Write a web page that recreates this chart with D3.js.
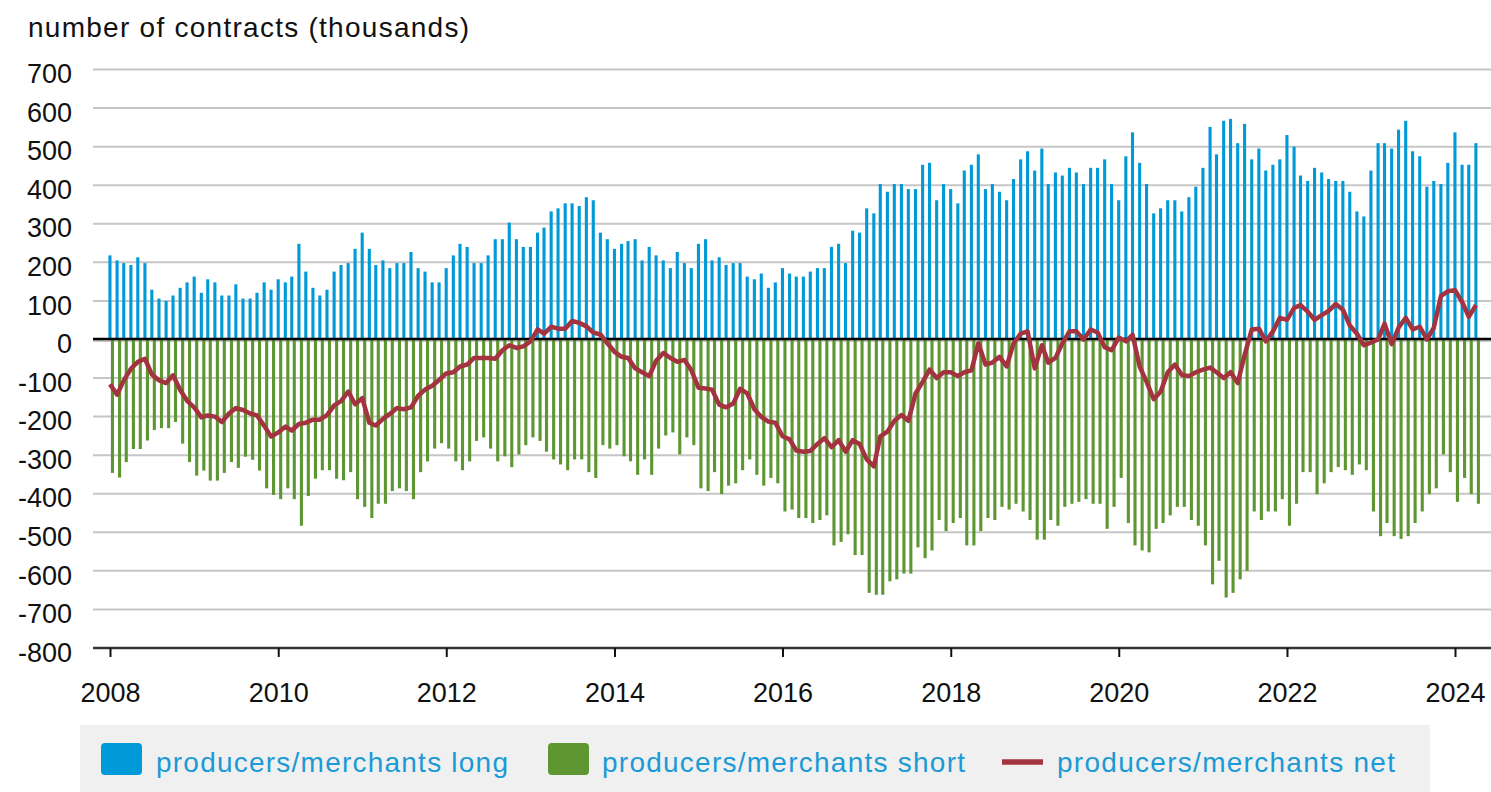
<!DOCTYPE html>
<html>
<head>
<meta charset="utf-8">
<script src="https://cdn.jsdelivr.net/npm/d3@7"></script>
<style>
  body { margin: 0; background: #ffffff; }
  svg { display: block; font-family: "Liberation Sans", Arial, sans-serif; }
</style>
</head>
<body>
<div id="chart"></div>
<script>
// Monthly positions, Jan 2008 - Apr 2024 (thousands of contracts)
const longPos = [
  218, 205, 198, 193, 213, 198, 129, 106, 100, 114, 134, 148, 163, 121, 156, 148, 114, 114, 143, 106, 106, 121, 148, 129,
  156, 148, 163, 248, 176, 134, 114, 129, 176, 193, 198, 235, 277, 235, 193, 205, 185, 198, 198, 227, 185, 176, 148, 148, 185,
  218, 248, 240, 198, 198, 218, 260, 260, 303, 260, 240, 240, 277, 290, 332, 340, 353, 353, 346, 369, 361, 277, 260, 235, 248,
  255, 260, 205, 240, 218, 205, 185, 227, 198, 185, 248, 260, 205, 213, 193, 198, 198, 163, 156, 171, 134, 148, 185, 171, 163,
  163, 176, 185, 185, 240, 248, 198, 282, 277, 340, 327, 403, 383, 403, 403, 390, 390, 453, 458, 361, 403, 390, 353, 438, 453,
  480, 390, 403, 383, 361, 416, 467, 488, 438, 495, 403, 433, 425, 445, 433, 403, 445, 445, 467, 403, 361, 475, 537, 458, 403,
  327, 340, 361, 361, 332, 369, 396, 445, 551, 480, 567, 572, 509, 559, 467, 495, 438, 453, 467, 530, 500, 425, 411, 445, 433,
  416, 411, 411, 383, 332, 319, 438, 509, 509, 495, 544, 567, 488, 475, 396, 411, 403, 458, 537, 453, 453, 509
];

const shortPos = [
  -346, -358, -318, -284, -284, -262, -235, -230, -230, -214, -270, -318, -353, -340, -366, -366, -346, -318, -333, -304, -312, -340, -386, -403,
  -414, -386, -414, -483, -406, -361, -339, -339, -361, -365, -344, -414, -434, -463, -426, -426, -393, -386, -393, -414, -344, -316, -283, -269, -283,
  -316, -339, -316, -263, -254, -283, -316, -303, -331, -298, -274, -254, -263, -291, -311, -324, -339, -311, -311, -344, -359, -274, -283, -274, -303,
  -316, -351, -311, -351, -283, -249, -241, -298, -254, -274, -386, -393, -344, -401, -379, -373, -339, -311, -351, -379, -359, -373, -446, -441, -463,
  -463, -476, -468, -456, -534, -525, -505, -559, -559, -657, -662, -662, -627, -622, -607, -607, -539, -567, -547, -468, -497, -476, -463, -534, -534,
  -497, -463, -468, -434, -441, -426, -446, -468, -519, -519, -468, -483, -434, -426, -421, -414, -426, -426, -491, -434, -359, -476, -534, -547, -552,
  -491, -476, -456, -434, -434, -468, -483, -534, -635, -574, -669, -657, -622, -600, -446, -468, -446, -446, -414, -483, -426, -344, -344, -401, -373,
  -344, -331, -339, -351, -324, -339, -446, -510, -476, -510, -517, -510, -476, -446, -401, -386, -298, -344, -421, -359, -401, -426
];

const netPos = [
  -116, -143, -106, -76, -58, -50, -91, -106, -113, -93, -131, -159, -176, -202, -197, -200, -214, -192, -178, -183, -192, -197, -224, -252,
  -241, -226, -236, -219, -216, -208, -208, -196, -171, -160, -135, -168, -152, -216, -223, -206, -193, -178, -181, -176, -146, -130, -120, -105, -88,
  -85, -70, -65, -48, -48, -48, -50, -28, -15, -22, -18, -5, 26, 15, 33, 28, 28, 48, 43, 34, 18, 13, -10, -32, -45,
  -48, -75, -85, -95, -55, -35, -48, -58, -53, -80, -125, -127, -130, -169, -176, -166, -128, -140, -181, -201, -213, -216, -251, -259, -288,
  -291, -289, -271, -256, -279, -261, -291, -261, -271, -311, -329, -251, -239, -211, -196, -211, -140, -110, -78, -100, -85, -85, -95, -85, -80,
  -10, -65, -60, -45, -70, -10, 15, 21, -75, -15, -60, -48, -10, 21, 21, 0, 26, 18, -20, -28, 5, -5, 12, -70, -110,
  -155, -135, -85, -65, -92, -95, -85, -78, -73, -85, -100, -85, -113, -40, 26, 28, -5, 21, 56, 51, 82, 89, 72, 51, 63,
  74, 92, 77, 36, 15, -15, -8, 0, 41, -12, 31, 56, 26, 33, 0, 31, 113, 125, 128, 97, 59, 89
];

const months = d3.timeMonth.range(new Date(2008, 0, 1), new Date(2024, 4, 1));

const yTicks = [700, 600, 500, 400, 300, 200, 100, 0, -100, -200, -300, -400, -500, -600, -700, -800];
const xTickYears = ["2008", "2010", "2012", "2014", "2016", "2018", "2020", "2022", "2024"];

const seriesNames = ["producers/merchants long", "producers/merchants short", "producers/merchants net"];
const colors = { long: "#009ad9", short: "#5e9732", net: "#a3333f", legendText: "#1b9ad6" };

const data = months.map((m, i) => ({
    date: m,
    long: longPos[i],
    short: shortPos[i],
    net: netPos[i]
}));

// Dimensions
const width = 1491, height = 792;
const plotLeft = 93, plotRight = 1491;

const svg = d3.select("#chart")
    .append("svg")
    .attr("width", width)
    .attr("height", height);

// Scales
const xScale = d3.scaleTime()
    .domain([new Date(2008, 0, 1), new Date(2024, 0, 1)])
    .range([110, 1455]);
const yScale = d3.scaleLinear().domain([-800, 700]).range([648, 69.5]);

// Title
svg.append("text")
    .attr("x", 28)
    .attr("y", 37)
    .attr("font-size", 28)
    .attr("textLength", 441)
    .attr("fill", "#111")
    .text("number of contracts (thousands)");

// Horizontal grid lines
svg.append("g")
    .selectAll("line")
    .data(yTicks.filter(d => d > -800))
    .join("line")
    .attr("x1", plotLeft)
    .attr("x2", plotRight)
    .attr("y1", d => yScale(d) + (d === 0 ? 1.5 : 0))
    .attr("y2", d => yScale(d) + (d === 0 ? 1.5 : 0))
    .attr("stroke", "#c6c6c6")
    .attr("stroke-width", 2);

// Y axis labels (plain hyphen for negatives)
const yAxis = svg.append("g")
    .attr("transform", `translate(${plotLeft},0)`)
    .call(d3.axisLeft(yScale)
        .tickValues(yTicks)
        .tickFormat(d => String(d))
        .tickSize(0)
        .tickPadding(21));
yAxis.select(".domain").remove();
yAxis.selectAll("text")
    .attr("y", 4.5)
    .attr("font-size", 27)
    .attr("font-family", "Liberation Sans, Arial, sans-serif")
    .attr("fill", "#111");

// Long bars
svg.append("g")
    .selectAll("rect")
    .data(data)
    .join("rect")
    .attr("x", d => xScale(d.date) - 1.6)
    .attr("width", 3.1)
    .attr("y", d => yScale(d.long))
    .attr("height", d => yScale(0) - yScale(d.long))
    .attr("fill", colors.long);

// Short bars
svg.append("g")
    .selectAll("rect")
    .data(data)
    .join("rect")
    .attr("x", d => xScale(d.date) + 0.9)
    .attr("width", 3.1)
    .attr("y", yScale(0))
    .attr("height", d => yScale(d.short) - yScale(0))
    .attr("fill", colors.short);

// Zero line
svg.append("line")
    .attr("x1", plotLeft)
    .attr("x2", plotRight)
    .attr("y1", yScale(0) - 0.5)
    .attr("y2", yScale(0) - 0.5)
    .attr("stroke", "#000")
    .attr("stroke-width", 2.5);

// Net line
const line = d3.line()
    .x(d => xScale(d.date))
    .y(d => yScale(d.net));

svg.append("path")
    .datum(data)
    .attr("fill", "none")
    .attr("stroke", colors.net)
    .attr("stroke-width", 4.5)
    .attr("stroke-linejoin", "round")
    .attr("d", line);

// X axis
svg.append("line")
    .attr("x1", plotLeft)
    .attr("x2", plotRight)
    .attr("y1", yScale(-800))
    .attr("y2", yScale(-800))
    .attr("stroke", "#333")
    .attr("stroke-width", 2.5);

const xAxis = svg.append("g")
    .attr("transform", `translate(0,${yScale(-800)})`)
    .call(d3.axisBottom(xScale)
        .tickValues(xTickYears.map(y => new Date(+y, 0, 1)))
        .tickFormat(d3.timeFormat("%Y"))
        .tickSize(9)
        .tickSizeOuter(0));
xAxis.select(".domain").remove();
xAxis.selectAll(".tick line").attr("stroke", "#111").attr("stroke-width", 2);
xAxis.selectAll("text")
    .attr("y", 54)
    .attr("dy", 0)
    .attr("font-size", 27)
    .attr("font-family", "Liberation Sans, Arial, sans-serif")
    .attr("fill", "#111");

// Legend
svg.append("rect")
    .attr("x", 80)
    .attr("y", 725)
    .attr("width", 1350)
    .attr("height", 70)
    .attr("fill", "#f0f0f0");

const legendItems = [
    { name: seriesNames[0], type: "box", color: colors.long, x: 101, tx: 156, len: 352 },
    { name: seriesNames[1], type: "box", color: colors.short, x: 548, tx: 602, len: 363 },
    { name: seriesNames[2], type: "line", color: colors.net, x: 1002, tx: 1057, len: 338 }
];

legendItems.forEach(item => {
    if (item.type === "box") {
        svg.append("rect")
            .attr("x", item.x)
            .attr("y", 743)
            .attr("width", 41)
            .attr("height", 32)
            .attr("rx", 4)
            .attr("fill", item.color);
    } else {
        svg.append("line")
            .attr("x1", item.x)
            .attr("x2", item.x + 41)
            .attr("y1", 762)
            .attr("y2", 762)
            .attr("stroke", item.color)
            .attr("stroke-width", 5.5);
    }
    svg.append("text")
        .attr("x", item.tx)
        .attr("y", 772)
        .attr("font-size", 28)
        .attr("textLength", item.len)
        .attr("fill", colors.legendText)
        .text(item.name);
});
</script>
</body>
</html>
